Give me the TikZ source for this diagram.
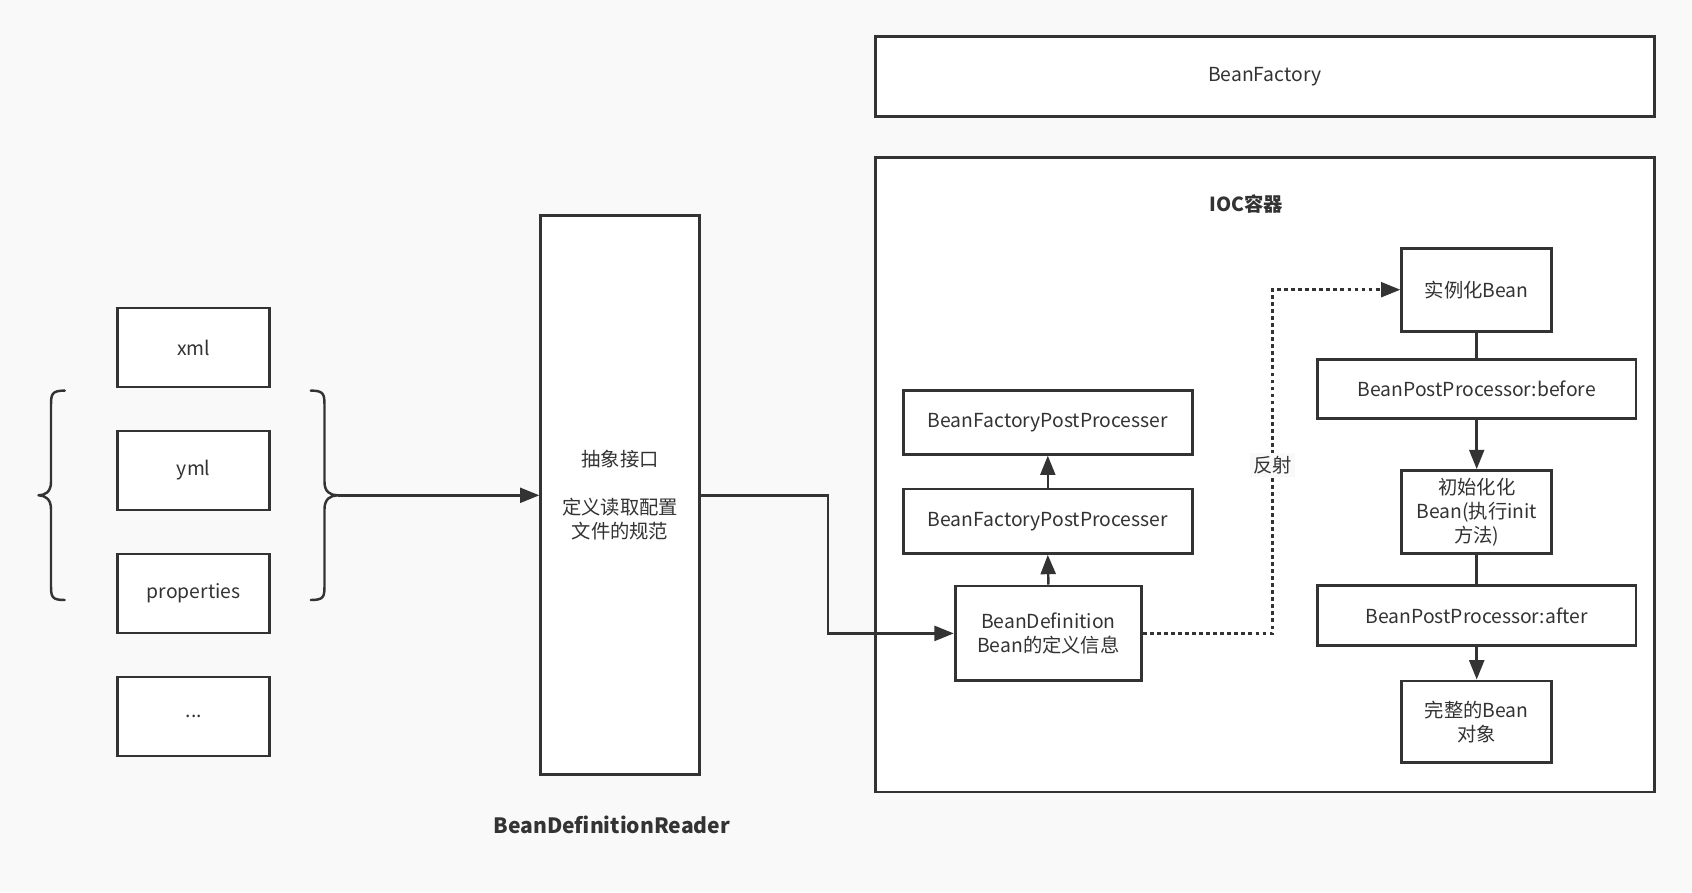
\documentclass[tikz,border=0pt]{standalone}
\usepackage{fontspec}
\setmainfont{Noto Sans CJK SC}
\usetikzlibrary{arrows.meta}
\definecolor{bgcol}{HTML}{F9F9F9}
\definecolor{ink}{HTML}{333333}

\begin{document}
\begin{tikzpicture}[x=0.02cm, y=-0.02cm, font=\fontsize{11}{13.6}\selectfont, text=ink,
	box/.style={draw=ink, fill=white, line width=1.6pt, align=center, inner sep=0pt},
	arr/.style={draw=ink, line width=1.4pt, -{Triangle[length=11pt,width=8.5pt]}},
	link/.style={draw=ink, line width=1.4pt},
	dots/.style={draw=ink, line width=1.4pt, dash pattern=on 2.2pt off 1.8pt}]
	\fill[bgcol] (0, 0) rectangle (1692, 892);

	% config files
	\node[box, minimum width=3.04cm, minimum height=1.58cm] (xml) at (193.7, 347.5) {xml};
	\node[box, minimum width=3.04cm, minimum height=1.58cm] (yml) at (193.7, 470.5) {yml};
	\node[box, minimum width=3.04cm, minimum height=1.58cm] (props) at (193.7, 593.5) {properties};
	\node[box, minimum width=3.04cm, minimum height=1.58cm] (more) at (193.7, 716.5) {...};

	% braces
	\draw[link, line cap=round, line join=round] (64.7, 390.6) .. controls (52, 390.6) and (51, 394) .. (51, 405) -- (51, 482) .. controls (51, 492) and (45, 495.3) .. (38.5, 495.3) .. controls (45, 495.3) and (51, 499) .. (51, 509) -- (51, 586) .. controls (51, 597) and (52, 600) .. (64.7, 600);
	\draw[link, line cap=round, line join=round] (310.8, 390.6) .. controls (323.5, 390.6) and (324.5, 394) .. (324.5, 405) -- (324.5, 482) .. controls (324.5, 492) and (330.5, 495.3) .. (337.8, 495.3) .. controls (330.5, 495.3) and (324.5, 499) .. (324.5, 509) -- (324.5, 586) .. controls (324.5, 597) and (323.5, 600) .. (310.8, 600);
	\coordinate (tip) at (337.8, 495.3);

	% reader
	\node[box, minimum width=3.17cm, minimum height=11.18cm] (reader) at (620, 495.3) {抽象接口\\\mbox{}\\定义读取配置\\文件的规范};
	\node[font=\fontsize{12}{14}\selectfont\bfseries] (readername) at (611.8, 824.4) {BeanDefinitionReader};

	% factory and container
	\node[box, minimum width=15.58cm, minimum height=1.6cm] (factory) at (1264.7, 76.6) {BeanFactory};
	\node[box, minimum width=15.58cm, minimum height=12.69cm] (ioc) at (1264.7, 474.8) {};
	\node[font=\fontsize{11}{13}\selectfont\bfseries] (iocname) at (1246.4, 204.5) {IOC容器};

	\node[box, minimum width=5.78cm, minimum height=1.27cm] (bfpp1) at (1047.8, 422.5) {BeanFactoryPostProcesser};
	\node[box, minimum width=5.78cm, minimum height=1.29cm] (bfpp2) at (1047.8, 521.2) {BeanFactoryPostProcesser};
	\node[box, minimum width=3.73cm, minimum height=1.9cm] (bd) at (1048.4, 633.4) {BeanDefinition\\Bean的定义信息};

	\node[box, minimum width=3cm, minimum height=1.66cm] (inst) at (1476.7, 289.7) {实例化Bean};
	\node[box, minimum width=6.37cm, minimum height=1.19cm] (before) at (1476.7, 389) {BeanPostProcessor:before};
	\node[box, minimum width=3cm, minimum height=1.66cm] (init) at (1476.7, 512) {初始化化\\Bean(执行init\\方法)};
	\node[box, minimum width=6.37cm, minimum height=1.19cm] (after) at (1476.7, 615.6) {BeanPostProcessor:after};
	\node[box, minimum width=3cm, minimum height=1.64cm] (full) at (1476.7, 721.9) {完整的Bean\\对象};

	% connectors
	\draw[arr] (tip) -- (reader.west);
	\draw[arr] (reader.east) -- ++(127.3, 0) |- (bd.west);
	\draw[arr] (bd.north) -- (bfpp2.south);
	\draw[arr] (bfpp2.north) -- (bfpp1.south);
	\draw[dots, -{Triangle[length=11pt,width=8.5pt]}] (bd.east) -- ++(129.5, 0) |- node[pos=0.245, fill=bgcol, inner sep=2pt] {反射} (inst.west);
	\draw[link] (inst.south) -- (before.north);
	\draw[arr] (before.south) -- (init.north);
	\draw[link] (init.south) -- (after.north);
	\draw[arr] (after.south) -- (full.north);
\end{tikzpicture}
\end{document}
